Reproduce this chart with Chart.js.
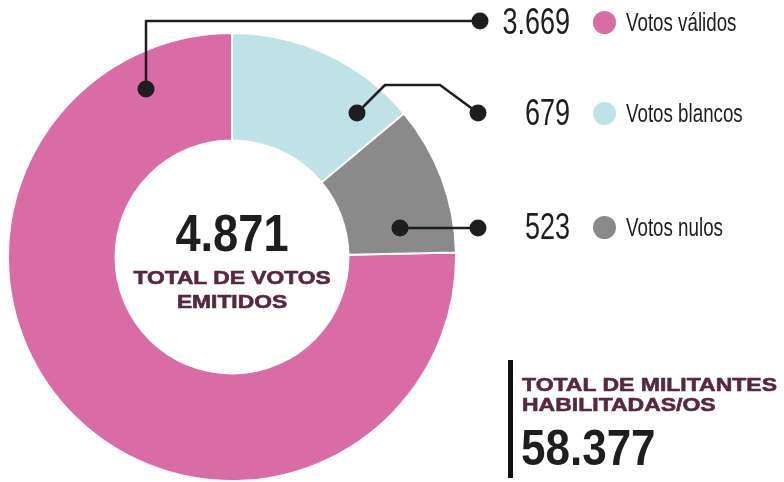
<!DOCTYPE html>
<html>
<head>
<meta charset="utf-8">
<script src="https://cdn.jsdelivr.net/npm/chart.js"></script>
<style>
  html, body { margin: 0; padding: 0; background: #fff; }
  body { width: 784px; height: 482px; position: relative; overflow: hidden; }
  #wrap { position: absolute; left: 0; top: 0; width: 784px; height: 482px; }
  .txt { position: absolute; font-family: 'Liberation Sans', Arial, sans-serif; color: #1e1e1e; white-space: nowrap; }
  .heavy { position: absolute; font-family: 'Liberation Sans', Arial, sans-serif; font-weight: bold; color: #572842; white-space: nowrap; -webkit-text-stroke: 0.6px #572842; }
  .dot { position: absolute; width: 23px; height: 23px; border-radius: 50%; }
</style>
</head>
<body>
<div id="wrap"><canvas id="donut"></canvas></div>
<div id="labels"></div>
<div class="txt" id="total" style="left:132px;width:200px;text-align:center;top:203px;font-size:52px;line-height:60px;font-weight:bold;transform:scaleX(0.87);transform-origin:center;"></div>
<div class="heavy" style="left:82px;width:300px;text-align:center;top:266px;font-size:19px;line-height:24px;transform:scaleX(1.2);transform-origin:center;">TOTAL DE VOTOS<br>EMITIDOS</div>
<div style="position:absolute;left:508px;top:360px;width:5px;height:118px;background:#111;"></div>
<div class="heavy" style="left:522px;top:375px;font-size:19px;line-height:20px;transform:scaleX(1.21);transform-origin:left;">TOTAL DE MILITANTES<br>HABILITADAS/OS</div>
<div class="txt" id="militantes" style="left:521px;top:418px;font-size:50px;line-height:60px;font-weight:bold;transform:scaleX(0.88);transform-origin:left;"></div>
<script>
const categories = ['Votos válidos', 'Votos blancos', 'Votos nulos']
const votes = [3669, 679, 523]
const voteLabels = ['3.669', '679', '523']
const colors = ['#d96ba5', '#bee2e5', '#8a8a8a']
const totalLabel = '4.871'
const militantesLabel = '58.377'

document.getElementById('total').textContent = totalLabel
document.getElementById('militantes').textContent = militantesLabel

// right-hand labels
const rowsY = [22, 113, 227]
const labels = document.getElementById('labels')
categories.forEach((c, i) => {
	const n = document.createElement('div')
	n.className = 'txt'
	Object.assign(n.style, {
		left: '370px', width: '200px', textAlign: 'right', top: `${rowsY[i] - 22}px`,
		fontSize: '36px', lineHeight: '44px', transform: 'scaleX(0.75)', transformOrigin: 'right',
	})
	n.textContent = voteLabels[i]
	labels.appendChild(n)

	const d = document.createElement('div')
	d.className = 'dot'
	Object.assign(d.style, { left: '593px', top: `${rowsY[i] - 11.5}px`, background: colors[i] })
	labels.appendChild(d)

	const t = document.createElement('div')
	t.className = 'txt'
	Object.assign(t.style, {
		left: '626px', top: `${rowsY[i] - 16}px`, fontSize: '25px', lineHeight: '32px',
		transform: 'scaleX(0.75)', transformOrigin: 'left',
	})
	t.textContent = c
	labels.appendChild(t)
})

// leader lines, relative to donut center
const leaders = [
	[[-86, -168], [-86, -236], [248, -236]],
	[[125, -144], [153, -172], [208, -172], [246, -144]],
	[[168, -29], [246, -29]],
]

const leaderPlugin = {
	id: 'leaders',
	afterDraw(chart) {
		const arc = chart.getDatasetMeta(0).data[0]
		const cx = arc.x, cy = arc.y
		const ctx = chart.ctx
		ctx.save()
		ctx.strokeStyle = '#1e1e1e'
		ctx.fillStyle = '#1e1e1e'
		ctx.lineWidth = 2.5
		ctx.lineJoin = 'round'
		leaders.forEach((pts) => {
			ctx.beginPath()
			pts.forEach((p, i) => {
				if (i === 0) ctx.moveTo(cx + p[0], cy + p[1])
				else ctx.lineTo(cx + p[0], cy + p[1])
			})
			ctx.stroke()
			;[pts[0], pts[pts.length - 1]].forEach((p) => {
				ctx.beginPath()
				ctx.arc(cx + p[0], cy + p[1], 8.5, 0, Math.PI * 2)
				ctx.fill()
			})
		})
		ctx.restore()
	},
}

const total = votes.reduce((s, v) => s + v, 0)

new Chart(document.getElementById('donut').getContext('2d'), {
	type: 'doughnut',
	data: {
		labels: categories,
		datasets: [{
			data: votes,
			backgroundColor: colors,
			borderColor: '#ffffff',
			borderWidth: 2,
		}],
	},
	options: {
		responsive: true,
		maintainAspectRatio: false,
		animation: false,
		cutout: '52%',
		rotation: -(votes[0] / total) * 360,
		layout: { padding: { left: 7, top: 32, right: 327, bottom: 0 } },
		plugins: { legend: { display: false }, tooltip: { enabled: false } },
	},
	plugins: [leaderPlugin],
})
</script>
</body>
</html>
